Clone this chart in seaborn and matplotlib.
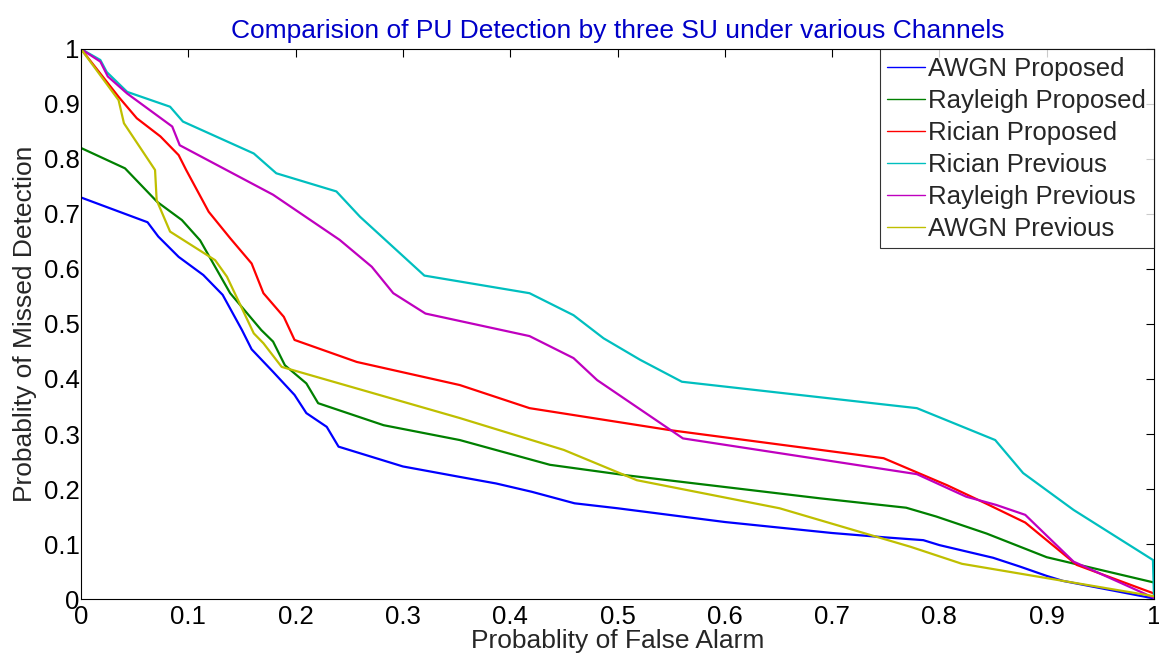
import matplotlib
matplotlib.use('Agg')
import matplotlib.pyplot as plt
import seaborn as sns
import pandas as pd

# series (x = false alarm prob, y = missed detection prob)
awgn_prop_x = [0, 0.062, 0.072, 0.091, 0.114, 0.132, 0.150, 0.159, 0.179, 0.199, 0.210, 0.229, 0.240,
               0.300, 0.353, 0.387, 0.420, 0.460, 0.500, 0.600, 0.700, 0.750, 0.785, 0.800, 0.850,
               0.875, 0.900, 0.915, 1.0]
awgn_prop_y = [0.730, 0.685, 0.659, 0.622, 0.589, 0.553, 0.489, 0.454, 0.413, 0.371, 0.338, 0.313, 0.277,
               0.241, 0.222, 0.210, 0.195, 0.174, 0.165, 0.140, 0.120, 0.112, 0.107, 0.098, 0.075,
               0.059, 0.042, 0.033, 0.001]

rayl_prop_x = [0, 0.041, 0.071, 0.094, 0.111, 0.139, 0.168, 0.179, 0.190, 0.210, 0.221, 0.282, 0.353,
               0.437, 0.508, 0.689, 0.769, 0.797, 0.844, 0.900, 1.0]
rayl_prop_y = [0.820, 0.783, 0.722, 0.689, 0.652, 0.556, 0.489, 0.468, 0.425, 0.392, 0.356, 0.316, 0.289,
               0.244, 0.225, 0.183, 0.166, 0.150, 0.119, 0.076, 0.030]

rici_prop_x = [0, 0.035, 0.052, 0.074, 0.091, 0.098, 0.119, 0.139, 0.159, 0.170, 0.189, 0.199, 0.257,
               0.353, 0.418, 0.549, 0.748, 0.807, 0.844, 0.880, 0.928, 1.0]
rici_prop_y = [1.000, 0.913, 0.874, 0.841, 0.807, 0.780, 0.704, 0.656, 0.610, 0.556, 0.513, 0.471, 0.431,
               0.389, 0.347, 0.307, 0.256, 0.207, 0.173, 0.139, 0.062, 0.010]

rici_prev_x = [0, 0.018, 0.024, 0.043, 0.083, 0.095, 0.161, 0.182, 0.238, 0.260, 0.320, 0.418, 0.459,
               0.487, 0.521, 0.560, 0.779, 0.852, 0.878, 0.925, 0.999, 1.0]
rici_prev_y = [1.000, 0.980, 0.958, 0.922, 0.895, 0.868, 0.810, 0.774, 0.741, 0.695, 0.588, 0.556, 0.516,
               0.474, 0.435, 0.395, 0.347, 0.289, 0.229, 0.162, 0.071, 0.0]

rayl_prev_x = [0, 0.018, 0.025, 0.043, 0.085, 0.092, 0.179, 0.241, 0.271, 0.291, 0.321, 0.418, 0.459,
               0.481, 0.561, 0.779, 0.825, 0.853, 0.880, 0.925, 1.0]
rayl_prev_y = [1.000, 0.977, 0.950, 0.919, 0.859, 0.825, 0.735, 0.653, 0.604, 0.556, 0.519, 0.478, 0.438,
               0.398, 0.292, 0.227, 0.186, 0.171, 0.153, 0.068, 0.002]

awgn_prev_x = [0, 0.035, 0.040, 0.069, 0.0705, 0.083, 0.125, 0.136, 0.161, 0.170, 0.187, 0.353, 0.450,
               0.518, 0.651, 0.773, 0.821, 0.900, 1.0]
awgn_prev_y = [1.000, 0.907, 0.865, 0.780, 0.725, 0.668, 0.616, 0.586, 0.483, 0.465, 0.422, 0.329, 0.271,
               0.216, 0.165, 0.095, 0.064, 0.038, 0.005]

names = ['AWGN Proposed', 'Rayleigh Proposed', 'Rician Proposed',
         'Rician Previous', 'Rayleigh Previous', 'AWGN Previous']
colors = ['#0000ff', '#008000', '#ff0000', '#00bfbf', '#bf00bf', '#bfbf00']
series = [(awgn_prop_x, awgn_prop_y), (rayl_prop_x, rayl_prop_y), (rici_prop_x, rici_prop_y),
          (rici_prev_x, rici_prev_y), (rayl_prev_x, rayl_prev_y), (awgn_prev_x, awgn_prev_y)]

frames = []
for name, (xs, ys) in zip(names, series):
    frames.append(pd.DataFrame({'pfa': xs, 'pmd': ys, 'curve': name}))
df = pd.concat(frames, ignore_index=True)

sns.set_style('white')
plt.rcParams['font.family'] = ['Liberation Sans', 'DejaVu Sans']

fig = plt.figure(figsize=(11.59, 6.6), dpi=100)
ax = fig.add_axes([0.0699, 0.0924, 0.9258, 0.8334])

sns.lineplot(data=df, x='pfa', y='pmd', hue='curve', hue_order=names,
             palette=dict(zip(names, colors)), sort=False, estimator=None,
             linewidth=1.6, ax=ax)

ax.set_xlim(0, 1)
ax.set_ylim(0, 1)
ticks = [i / 10 for i in range(11)]
ax.set_xticks(ticks)
ax.set_yticks(ticks)
ax.set_xticklabels(['0'] + [f'{t:.1f}' for t in ticks[1:-1]] + ['1'])
ax.set_yticklabels(['0'] + [f'{t:.1f}' for t in ticks[1:-1]] + ['1'])
ax.tick_params(direction='in', length=6, width=0.8, labelsize=18.5, top=True, right=True,
               colors='black', pad=1)
ax.tick_params(axis='x', pad=4)
for s in ax.spines.values():
    s.set_color('black')
    s.set_linewidth(0.8)

ax.set_xlabel('Probablity of False Alarm', fontsize=19, labelpad=0)
ax.set_ylabel('Probablity of Missed Detection', fontsize=19, labelpad=5)
ax.set_title('Comparision of PU Detection by three SU under various Channels',
             fontsize=19, color='#0000c8', pad=8)

leg = ax.legend(loc='upper right', fontsize=18.5, frameon=True, fancybox=False,
                handlelength=1.45, handletextpad=0.15, borderpad=0.3, labelspacing=0.31,
                borderaxespad=0.0)
leg.get_frame().set_edgecolor('black')
leg.get_frame().set_linewidth(0.8)
for line in leg.get_lines():
    line.set_linewidth(1.0)

fig.savefig('out.png', dpi=100)
